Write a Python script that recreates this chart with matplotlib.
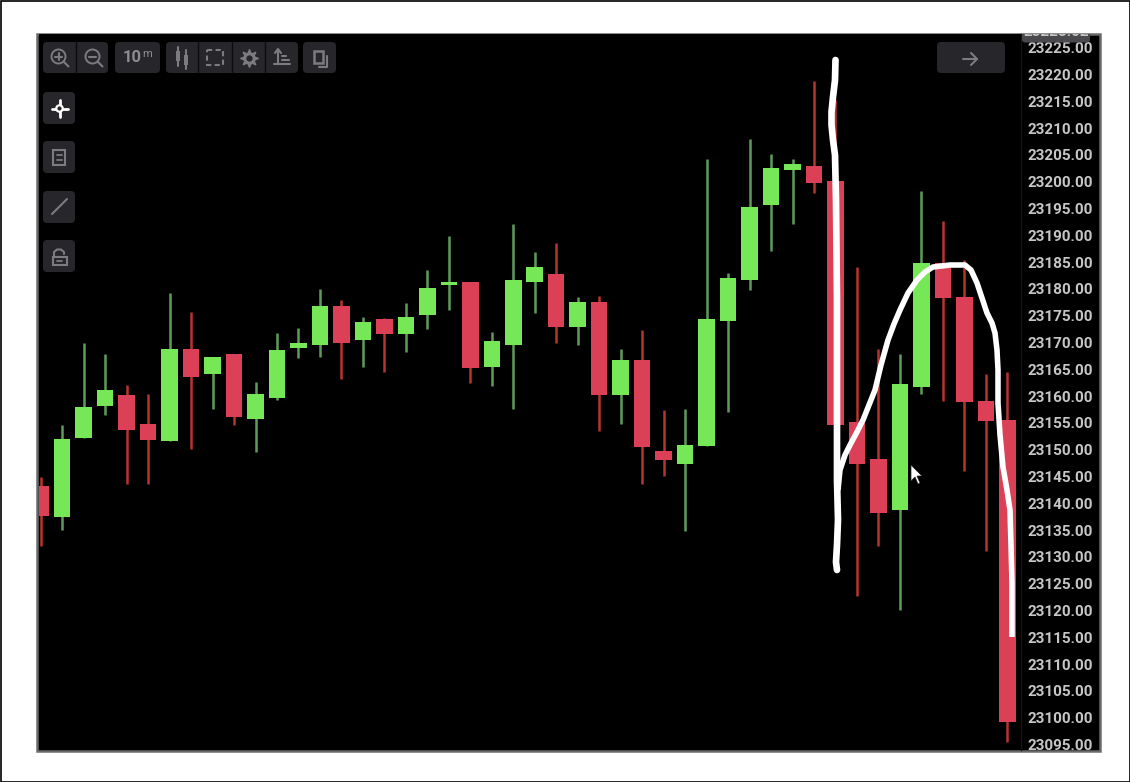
import matplotlib
matplotlib.use("Agg")
import matplotlib.pyplot as plt
from matplotlib.patches import FancyBboxPatch, Rectangle, Circle, Polygon

plt.rcParams["font.family"] = ["Roboto", "DejaVu Sans"]

# candles: highs, lows, opens, closes
highs = [23144.9, 23154.6, 23169.9, 23167.8, 23162.1, 23160.3, 23179.3, 23175.6, 23167.3, 23167.8,
         23162.7, 23171.7, 23172.7, 23179.9, 23178.0, 23174.7, 23174.6, 23177.4, 23183.6, 23189.9,
         23181.3, 23171.9, 23192.0, 23186.8, 23188.6, 23178.4, 23178.7, 23168.8, 23172.3, 23157.4,
         23157.6, 23204.3, 23182.9, 23207.9, 23205.2, 23204.3, 23218.8, 23215.2, 23184.1, 23168.7,
         23167.9, 23198.3, 23192.6, 23185.4, 23164.1, 23164.5]
lows = [23132.0, 23135.0, 23152.2, 23156.5, 23143.6, 23143.6, 23151.6, 23150.1, 23157.6, 23154.6,
        23149.5, 23159.3, 23167.0, 23167.3, 23163.1, 23165.5, 23164.5, 23168.2, 23172.5, 23176.0,
        23162.5, 23161.9, 23157.6, 23175.5, 23169.8, 23169.6, 23153.5, 23154.8, 23143.5, 23145.1,
        23134.8, 23150.7, 23157.1, 23179.8, 23187.0, 23192.1, 23197.8, 23154.6, 23122.6, 23132.1,
        23120.1, 23160.4, 23159.1, 23146.1, 23131.1, 23095.5]
opens = [23143.3, 23137.4, 23152.2, 23158.1, 23160.1, 23154.8, 23151.6, 23168.8, 23164.1, 23167.8,
         23155.7, 23159.6, 23168.9, 23169.6, 23176.8, 23170.4, 23174.3, 23171.6, 23175.2, 23180.7,
         23181.3, 23165.4, 23169.6, 23181.2, 23182.8, 23172.9, 23177.5, 23160.1, 23166.8, 23149.8,
         23147.4, 23150.7, 23173.9, 23181.6, 23195.7, 23202.2, 23203.0, 23200.1, 23155.1, 23148.3,
         23138.7, 23161.6, 23184.9, 23178.5, 23159.1, 23155.5]
closes = [23137.6, 23152.0, 23158.0, 23161.1, 23153.7, 23151.8, 23168.8, 23163.6, 23167.3, 23156.1,
          23160.4, 23168.5, 23169.8, 23176.8, 23169.9, 23173.8, 23171.6, 23174.8, 23180.2, 23181.3,
          23165.2, 23170.3, 23181.6, 23184.1, 23172.9, 23177.5, 23160.1, 23166.8, 23150.4, 23148.1,
          23150.8, 23174.3, 23182.0, 23195.3, 23202.5, 23203.3, 23199.7, 23154.6, 23147.4, 23138.1,
          23162.3, 23184.9, 23178.3, 23158.9, 23155.4, 23099.1]

price_ticks = list(range(23095, 23230, 5))
top_price = 23228.02

# hand drawn white strokes, in picture pixels
stroke1_x = [835.5, 835, 833, 831.5, 831.5, 833, 835, 836, 837, 837, 837, 838, 837, 836, 837]
stroke1_y = [60, 80, 97, 112, 125, 140, 155, 200, 300, 400, 480, 520, 545, 562, 570]
stroke2_x = [838, 840, 845, 850, 857, 863, 869, 875, 881, 888, 894, 900, 908, 917, 925, 933, 950,
             965, 971, 977, 982, 987, 992, 995, 997, 998, 998, 1000, 1003, 1007, 1010, 1011, 1012, 1012]
stroke2_y = [490, 470, 455, 445, 432, 420, 405, 390, 365, 340, 324, 310, 293, 280, 272, 267, 265,
             265, 270, 283, 298, 313, 323, 333, 350, 370, 403, 435, 467, 490, 510, 545, 583, 637]

GREEN = "#76E858"
RED = "#DC4057"
GREEN_WICK = "#5F9C5C"
RED_WICK = "#B8352F"
BTN = "#26262B"
ICON = "#7C7C80"

W, H = 1130, 782
fig = plt.figure(figsize=(W / 100, H / 100), dpi=100, facecolor="white")

# panel behind everything
fig.patches.append(Rectangle((37 / W, 1 - 751 / H), 1063 / W, 717 / H, transform=fig.transFigure,
                             facecolor="black", edgecolor="#6A6A6A", linewidth=1.8, zorder=-2))
fig.patches.append(Rectangle((0.5 / W, 0.5 / H), (W - 1) / W, (H - 1) / H, transform=fig.transFigure,
                             facecolor="none", edgecolor="black", linewidth=1.2, zorder=-1))

# price chart: px per bar 21.48, px per point 5.36
ax = fig.add_axes([39 / W, 1 - 750 / H, (1021 - 39) / W, 716 / H], facecolor="black")
ax.set_xlim((39 - 40.7) / 21.48, (1021 - 40.7) / 21.48)
ax.set_ylim(23225 - (750 - 47.6) / 5.36, 23225 + (47.6 - 34) / 5.36)

for i in range(len(opens)):
    up = closes[i] >= opens[i]
    ax.vlines(i, lows[i], highs[i], color=GREEN_WICK if up else RED_WICK, linewidth=1.8, zorder=2)
    ax.bar(i, abs(closes[i] - opens[i]), bottom=min(opens[i], closes[i]), width=0.77,
           color=GREEN if up else RED, zorder=3)

ax.set_xticks([])
ax.set_yticks(price_ticks)
ax.set_yticklabels([f"{p:.2f}" for p in price_ticks], fontsize=11, fontweight="bold", color="#C6C6C6")
ax.yaxis.tick_right()
ax.tick_params(axis="y", length=0, pad=5)
for s in ["top", "left", "bottom"]:
    ax.spines[s].set_visible(False)
ax.spines["right"].set_color("#141416")
ax.spines["right"].set_linewidth(1)

# overlay in picture pixels for toolbar and strokes
ov = fig.add_axes([0, 0, 1, 1], facecolor="none")
ov.set_xlim(0, W)
ov.set_ylim(H, 0)
ov.axis("off")


def button(x0, y0, x1, y1, color=BTN):
    ov.add_patch(FancyBboxPatch((x0 + 3, y0 + 3), x1 - x0 - 6, y1 - y0 - 6,
                                boxstyle="round,pad=3,rounding_size=4",
                                facecolor=color, edgecolor="none", zorder=4))


def line(xs, ys, color=ICON, lw=1.5):
    ov.plot(xs, ys, color=color, linewidth=lw, zorder=5, solid_capstyle="round")


button(43, 42, 108, 73)
button(115, 42, 160, 73)
button(166, 42, 298, 73)
button(303, 42, 336, 73)
button(937, 42, 1005, 73)
for bx in [76, 198, 232, 265]:
    line([bx, bx], [42, 73], color="#0C0C0E", lw=1)
for by0 in [92, 141, 191, 240]:
    button(43, by0, 75, by0 + 32)

# zoom buttons
for cx, sign in [(58.5, "+"), (92.5, "-")]:
    ov.add_patch(Circle((cx, 56.5), 7, facecolor="none", edgecolor=ICON, linewidth=1.4, zorder=5))
    line([cx + 5, cx + 10], [61.5, 66.5])
    line([cx - 3.5, cx + 3.5], [56.5, 56.5])
    if sign == "+":
        line([cx, cx], [53, 60])

ov.text(123, 58, "10", color="#8E8E92", fontsize=12, fontweight="bold", va="center", ha="left", zorder=5)
ov.text(142, 54, "m", color="#8E8E92", fontsize=8, va="center", ha="left", zorder=5)

# candle icon
line([178, 178], [47, 66])
line([186, 186], [50, 69])
ov.add_patch(Rectangle((176, 51), 4, 10, facecolor=ICON, edgecolor="none", zorder=5))
ov.add_patch(Rectangle((184, 55), 4, 10, facecolor=ICON, edgecolor="none", zorder=5))
# dashed select box
ov.add_patch(Rectangle((207, 50), 16, 15, facecolor="none", edgecolor=ICON, linewidth=1.5,
                       linestyle=(0, (2.5, 1.6)), zorder=5))
# settings gear
ov.plot([249], [58], marker=(8, 1, 0), markersize=13, color=ICON, zorder=5)
ov.plot([249], [58], marker="o", markersize=8, color=ICON, zorder=5)
ov.plot([249], [58], marker="o", markersize=3.5, color=BTN, zorder=6)
# axis icon
line([278, 278], [50, 64])
line([274, 290], [64, 64])
line([282, 286], [56, 56])
line([282, 289], [60, 60])
line([275, 278, 281], [53, 49, 53])
# window icon
ov.add_patch(Rectangle((314, 51), 9, 12, facecolor="none", edgecolor=ICON, linewidth=1.8, zorder=5))
line([327, 327, 319], [56, 67, 67])
# arrow
line([963, 977], [59, 59])
line([971, 977, 971], [53, 59, 65])

# crosshair, active
line([52, 68], [108.5, 108.5], color="white", lw=2)
line([59.5, 59.5], [100, 117], color="white", lw=2)
ov.add_patch(Circle((59.5, 108.5), 3.2, facecolor=BTN, edgecolor="white", linewidth=1.6, zorder=6))
# left tools
ov.add_patch(Rectangle((53, 150), 12, 15, facecolor="none", edgecolor=ICON, linewidth=1.5, zorder=5))
line([56.5, 61.5], [155, 155], lw=1.3)
line([56.5, 61.5], [160, 160], lw=1.3)
line([52, 67], [214, 199])
ov.add_patch(Rectangle((52.5, 257), 14, 8, facecolor="none", edgecolor=ICON, linewidth=1.5, zorder=5))
line([54, 54, 57, 61, 64, 64], [257, 252, 249.5, 249.5, 252, 254])
line([57, 62], [261, 261], lw=1.3)

# crosshair price tag, cut off by the panel top
clip = Rectangle((1022, 34), 68, 9, transform=ov.transData)
tag = FancyBboxPatch((1024, 24), 64, 16.5, boxstyle="round,pad=2,rounding_size=3",
                     facecolor="#4A4A4E", edgecolor="none", zorder=6)
ov.add_patch(tag)
tag.set_clip_path(clip)
tag_txt = ov.text(1056, 32, f"{top_price:.2f}", color="#C6C6C6", fontsize=11, fontweight="bold",
                  ha="center", va="center", zorder=7, clip_on=True)
tag_txt.set_clip_path(clip)

# strokes
ov.plot(stroke1_x, stroke1_y, color="white", linewidth=4.8, zorder=8,
        solid_capstyle="round", solid_joinstyle="round")
ov.plot(stroke2_x, stroke2_y, color="white", linewidth=4.0, zorder=8,
        solid_capstyle="butt", solid_joinstyle="round")

# mouse pointer
ov.add_patch(Polygon([(911, 465), (911, 481), (915, 477), (918, 484), (920, 483), (917, 476), (922, 476)],
                     closed=True, facecolor="white", edgecolor="#222222", linewidth=0.5, zorder=9))

fig.savefig("out.png", dpi=100, facecolor="white")
